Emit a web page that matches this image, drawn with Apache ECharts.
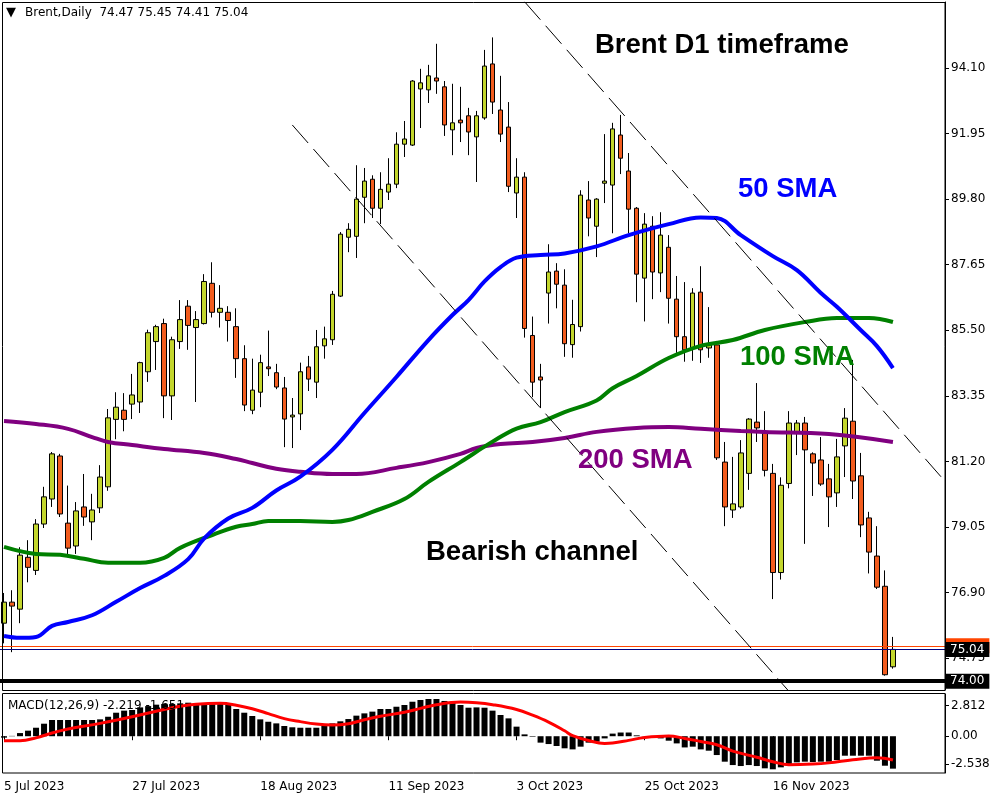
<!DOCTYPE html>
<html><head><meta charset="utf-8">
<script src="https://cdn.jsdelivr.net/npm/echarts@6/dist/echarts.min.js"></script>
<style>html,body{margin:0;padding:0;background:#fff}#c{width:1000px;height:800px}</style>
</head><body><div id="c"></div>
<script>
// ---------- DATA ----------
const firstDate = [2023, 6, 5];   // 5 Jul 2023 (month 0-based)
const barCount = 112;
const futureSlots = 6;
const categories = [];
(function () {
  const d = new Date(Date.UTC(firstDate[0], firstDate[1], firstDate[2]));
  while (categories.length < barCount + futureSlots) {
    const wd = d.getUTCDay();
    if (wd !== 0 && wd !== 6) categories.push(d.toISOString().slice(0, 10));
    d.setUTCDate(d.getUTCDate() + 1);
  }
})();

const open = [
75.90,76.59,76.36,78.06,77.63,79.15,79.97,81.38,79.18,78.43,
79.71,79.22,79.68,80.37,82.58,82.88,83.08,83.15,84.14,85.13,
85.72,83.35,85.13,86.29,85.59,85.72,87.04,86.09,86.09,85.62,
84.57,82.88,83.47,84.30,84.11,83.61,82.66,82.76,84.30,83.80,
84.99,85.19,86.62,88.55,88.58,89.86,90.45,89.50,90.03,90.29,
91.60,91.57,93.41,93.38,93.77,93.48,92.07,92.39,92.53,91.84,
92.46,94.23,92.72,92.16,90.00,90.52,85.33,83.97,86.72,87.44,
86.98,85.03,85.62,89.77,88.91,90.32,90.26,91.90,90.72,89.50,
87.21,88.91,87.38,88.22,86.52,85.29,84.92,86.75,84.92,85.02,
81.18,79.61,79.71,80.81,82.49,82.13,80.81,77.56,80.48,82.17,
82.46,81.45,81.25,80.63,80.17,81.71,82.52,80.73,79.35,78.10,
77.11,74.47];
const high = [
76.89,76.98,78.39,78.62,79.31,80.37,81.51,81.45,80.41,79.87,
80.79,80.14,81.08,82.92,83.47,83.44,84.07,84.47,85.52,85.68,
85.88,85.29,86.49,86.49,86.13,87.34,87.73,86.98,86.29,86.22,
85.01,84.57,84.70,85.49,84.40,83.97,83.28,84.44,84.66,85.51,
85.62,86.79,88.72,89.01,90.91,90.82,90.58,90.68,91.14,91.99,
92.36,93.70,94.07,94.20,94.89,93.67,93.58,93.48,92.79,92.69,
94.69,95.10,93.84,92.98,91.14,90.68,85.95,84.40,88.32,87.70,
87.50,86.50,90.09,90.39,89.83,91.93,92.30,92.56,91.31,89.54,
89.34,89.24,89.37,88.62,87.28,87.08,86.88,87.60,86.26,85.15,
81.84,81.35,81.90,82.62,83.77,82.85,81.12,80.68,82.85,82.56,
82.66,81.50,82.00,81.12,81.94,82.95,84.53,81.48,79.55,79.08,
77.63,75.45];
const low = [
75.24,74.95,75.90,77.24,77.48,79.02,79.71,79.38,78.13,78.17,
79.09,78.62,79.51,80.24,81.93,82.19,82.59,82.79,83.81,84.20,
82.62,82.56,84.89,84.86,83.15,85.69,85.92,85.59,85.13,83.94,
82.85,82.75,82.98,84.00,83.57,81.67,81.64,82.23,83.51,83.28,
84.57,85.02,86.59,88.06,87.87,89.01,89.18,88.98,89.77,90.16,
91.18,91.54,92.13,92.95,93.25,91.87,91.24,91.67,91.24,90.36,
92.40,92.59,91.67,90.03,89.18,85.26,83.31,82.95,85.72,86.22,
84.63,84.60,85.46,88.58,87.90,89.67,88.68,90.62,88.68,86.42,
85.79,86.52,86.75,85.72,84.76,84.47,84.50,84.43,84.60,81.25,
79.08,79.35,79.65,80.27,81.84,80.71,76.69,77.33,80.32,81.41,
78.50,80.07,80.40,79.05,79.71,80.69,79.97,78.72,77.53,77.02,
74.18,74.41];
const close = [
76.59,76.46,78.13,77.73,79.15,80.04,81.45,79.48,78.36,79.58,
79.38,79.61,80.69,82.63,82.98,82.58,83.38,84.44,85.42,85.62,
83.35,85.19,85.85,85.66,85.85,87.10,86.09,86.22,85.82,84.57,
83.05,83.54,84.44,84.24,83.64,82.59,82.72,84.14,83.90,84.96,
85.22,86.68,88.65,88.81,89.80,90.39,89.50,90.12,90.29,91.60,
91.77,93.67,93.61,93.84,93.67,92.23,92.30,92.30,92.00,92.53,
94.16,92.98,91.93,90.22,90.52,85.56,83.80,83.87,87.41,87.01,
85.06,85.69,89.93,89.18,89.80,90.39,92.10,91.14,89.47,87.34,
88.98,87.41,88.62,86.55,85.29,84.86,86.72,84.86,85.05,81.32,
79.71,79.81,81.48,82.59,82.30,80.91,77.56,80.42,82.46,82.46,
81.58,81.15,80.46,80.04,81.35,82.62,80.56,79.12,78.23,77.08,
74.21,75.04];

// moving averages: [bar index, price]
const sma50 = [[0,75.48],[2,75.42],[4,75.45],[6,75.81],[8,75.94],[11,76.16],[14,76.60],[17,77.05],[20,77.45],[23,78.00],[25,78.68],[28,79.33],[31,79.68],[34,80.25],[37,80.70],[41,81.58],[45,82.79],[49,83.97],[53,85.18],[56,86.00],[58,86.49],[60,87.10],[62,87.57],[64,87.88],[67,87.97],[70,88.02],[74,88.25],[78,88.62],[83,88.98],[87,89.20],[89,89.18],[92,88.62],[96,87.93],[99,87.47],[102,86.72],[104,86.27],[107,85.50],[109,84.98],[111,84.26]];
const sma100 = [[0,78.40],[4,78.17],[7,78.14],[10,78.01],[13,77.88],[17,77.88],[20,78.04],[22,78.37],[26,78.79],[29,79.06],[31,79.15],[33,79.25],[37,79.25],[41,79.22],[43,79.28],[46,79.55],[50,79.97],[53,80.53],[57,81.18],[61,81.85],[64,82.28],[67,82.49],[70,82.82],[74,83.20],[76,83.60],[79,84.00],[83,84.59],[87,84.99],[91,85.18],[95,85.51],[100,85.77],[104,85.90],[108,85.90],[111,85.77]];
const sma200 = [[0,82.53],[4,82.43],[8,82.27],[11,82.00],[13,81.84],[16,81.74],[20,81.61],[25,81.48],[29,81.28],[31,81.15],[34,80.96],[37,80.86],[41,80.79],[44,80.79],[49,80.99],[53,81.18],[57,81.45],[59,81.64],[62,81.77],[66,81.84],[70,81.97],[74,82.17],[79,82.30],[83,82.33],[87,82.27],[92,82.20],[95,82.17],[103,82.10],[111,81.84]];

// bearish channel trend lines: [bar index, price]
const channelUpper = [[65, 96.27], [117, 80.70]];
const channelLower = [[36, 92.23], [98, 73.67]];

// MACD(12,26,9)
const macdHist = [
-0.13,0.03,0.29,0.51,0.78,1.15,1.49,1.49,1.49,1.49,
1.49,1.49,1.55,1.79,2.16,2.35,2.41,2.65,2.77,2.90,
2.96,2.96,3.02,3.08,3.02,3.02,3.08,3.02,2.93,2.50,
2.16,1.86,1.55,1.33,1.18,0.94,0.82,0.78,0.78,0.78,
0.94,1.18,1.37,1.58,1.89,2.10,2.26,2.50,2.50,2.71,
2.87,3.17,3.33,3.42,3.42,3.24,3.17,2.87,2.62,2.65,
2.62,2.35,1.95,1.64,0.88,0.17,-0.05,-0.59,-0.72,-0.90,
-1.11,-1.21,-0.96,-0.59,-0.50,-0.20,0.24,0.34,0.34,0.08,
0.02,-0.05,-0.20,-0.41,-0.66,-1.03,-0.96,-1.21,-1.33,-1.73,
-2.34,-2.65,-2.74,-2.65,-2.74,-2.95,-3.04,-2.86,-2.65,-2.40,
-2.34,-2.37,-2.34,-2.34,-2.19,-1.79,-1.79,-1.79,-1.79,-2.25,
-2.71,-2.98];
const macdSignal = [[0,-0.41],[2,-0.41],[4,-0.15],[6,0.30],[8,0.66],[12,1.18],[16,1.79],[19,2.30],[22,2.75],[24,2.94],[27,3.02],[29,2.85],[31,2.52],[33,2.08],[35,1.62],[37,1.34],[39,1.12],[41,1.03],[43,1.15],[45,1.52],[47,1.84],[50,2.20],[52,2.56],[54,2.90],[57,3.14],[59,3.08],[61,2.90],[64,2.45],[66,1.93],[68,1.30],[70,0.50],[71,0.05],[73,-0.40],[75,-0.66],[76,-0.62],[78,-0.38],[80,-0.12],[83,0.02],[85,-0.20],[87,-0.48],[89,-0.78],[91,-1.37],[94,-1.93],[96,-2.34],[98,-2.62],[101,-2.56],[103,-2.45],[106,-2.17],[109,-1.97],[111,-2.19]];

// axis tick labels
const priceTicks = [94.10, 91.95, 89.80, 87.65, 85.50, 83.35, 81.20, 79.05, 76.90, 74.75];
const macdTicks = [2.812, 0, -2.538];
const dateLabelStep = 16;
const askPrice = 75.16, bidPrice = 75.04, levelPrice = 74.00;
const headerText = 'Brent,Daily  74.47 75.45 74.41 75.04';
const macdHeader = 'MACD(12,26,9) -2.219 -1.651';
const monthNames = ['Jan','Feb','Mar','Apr','May','Jun','Jul','Aug','Sep','Oct','Nov','Dec'];

// ---------- CHART ----------
const BULL = '#c3d62d', BEAR = '#f25c1e';
const FONT = 'DejaVu Sans';
const chart = echarts.init(document.getElementById('c'), null, { renderer: 'canvas' });

const ohlc = open.map((o, i) => [o, close[i], low[i], high[i]]);
const showDate = idx => idx % dateLabelStep === 0 && idx < barCount;

function tag(text, bg, fg) {
  return { show: true, position: 'end', formatter: text, color: fg, backgroundColor: bg,
           padding: [2, 5, 1, 4], fontSize: 12, fontFamily: FONT, distance: 1 };
}
function annotation(text, x, y, color) {
  return { type: 'text', x: x, y: y, z: 50,
    style: { text: text, fill: color, font: 'bold 27.5px "Liberation Sans", Arial, sans-serif', textVerticalAlign: 'middle' } };
}

const option = {
  animation: false,
  backgroundColor: '#fff',
  grid: [
    { left: 0, top: 2, width: 945, height: 688 },
    { left: 0, top: 694, width: 945, height: 79 }
  ],
  xAxis: [
    { type: 'category', gridIndex: 0, data: categories, boundaryGap: true,
      axisLine: { show: false }, axisTick: { show: false }, axisLabel: { show: false }, splitLine: { show: false } },
    { type: 'category', gridIndex: 1, data: categories, boundaryGap: true,
      axisLine: { show: false },
      axisTick: { show: true, interval: showDate, alignWithLabel: true, length: 4, lineStyle: { color: '#000' } },
      axisLabel: { interval: showDate, align: 'left', margin: 8, color: '#000', fontSize: 12, fontFamily: FONT,
        formatter: v => { const p = v.split('-'); return (+p[2]) + ' ' + monthNames[+p[1] - 1] + ' ' + p[0]; } },
      splitLine: { show: false } }
  ],
  yAxis: [
    { type: 'value', gridIndex: 0, position: 'right', min: 73.71, max: 96.26,
      axisLine: { show: true, lineStyle: { color: '#000' } },
      axisTick: { show: true, customValues: priceTicks, length: 4, lineStyle: { color: '#000' } },
      axisLabel: { customValues: priceTicks, formatter: v => v.toFixed(2), color: '#000', fontSize: 12, fontFamily: FONT, margin: 6 },
      splitLine: { show: false } },
    { type: 'value', gridIndex: 1, position: 'right', min: -3.38, max: 3.88,
      axisLine: { show: true, lineStyle: { color: '#000' } },
      axisTick: { show: true, customValues: macdTicks, length: 4, lineStyle: { color: '#000' } },
      axisLabel: { customValues: macdTicks, formatter: v => (v === 0 ? '0.00' : v.toFixed(3)), color: '#000', fontSize: 12, fontFamily: FONT, margin: 6 },
      splitLine: { show: false } }
  ],
  series: [
    { type: 'candlestick', xAxisIndex: 0, yAxisIndex: 0, data: ohlc, barWidth: 5, z: 3,
      itemStyle: { color: BULL, color0: BEAR, borderColor: '#000', borderColor0: '#000', borderWidth: 1 },
      markLine: { silent: true, symbol: ['none', 'none'], animation: false,
        data: [
          { yAxis: askPrice, lineStyle: { color: '#ff4500', width: 1, type: 'solid' }, label: tag(askPrice.toFixed(2), '#ff4500', '#ff4500') },
          { yAxis: bidPrice, lineStyle: { color: '#000080', width: 1, type: 'solid' }, label: tag(bidPrice.toFixed(2), '#000', '#fff') },
          { yAxis: levelPrice, lineStyle: { color: '#000', width: 4, type: 'solid' }, label: tag(levelPrice.toFixed(2), '#000', '#fff') }
        ] } },
    { type: 'line', name: '200 SMA', xAxisIndex: 0, yAxisIndex: 0, data: sma200, showSymbol: false, smooth: 0.4, z: 4,
      lineStyle: { color: '#800080', width: 4 } },
    { type: 'line', name: '100 SMA', xAxisIndex: 0, yAxisIndex: 0, data: sma100, showSymbol: false, smooth: 0.4, z: 4,
      lineStyle: { color: '#008000', width: 4 } },
    { type: 'line', name: '50 SMA', xAxisIndex: 0, yAxisIndex: 0, data: sma50, showSymbol: false, smooth: 0.4, z: 4,
      lineStyle: { color: '#0000ff', width: 4 } },
    { type: 'line', xAxisIndex: 0, yAxisIndex: 0, data: channelUpper, showSymbol: false, z: 5,
      lineStyle: { color: '#000', width: 1, type: [24, 8] } },
    { type: 'line', xAxisIndex: 0, yAxisIndex: 0, data: channelLower, showSymbol: false, z: 5,
      lineStyle: { color: '#000', width: 1, type: [24, 8] } },
    { type: 'bar', xAxisIndex: 1, yAxisIndex: 1, data: macdHist, barWidth: 6, itemStyle: { color: '#000' }, z: 2 },
    { type: 'line', xAxisIndex: 1, yAxisIndex: 1, data: macdSignal, showSymbol: false, smooth: 0.4, z: 3,
      lineStyle: { color: '#ff0000', width: 3 } }
  ],
  graphic: [
    { type: 'rect', z: 40, shape: { x: 2.5, y: 2.5, width: 942.5, height: 688 }, style: { fill: 'none', stroke: '#000', lineWidth: 1 } },
    { type: 'rect', z: 40, shape: { x: 2.5, y: 693.5, width: 942.5, height: 79.5 }, style: { fill: 'none', stroke: '#000', lineWidth: 1 } },
    { type: 'text', x: 6, y: 13, z: 50, style: { text: '\u25BC', fill: '#000', font: '13px "DejaVu Sans"', textVerticalAlign: 'middle' } },
    { type: 'text', x: 25, y: 13, z: 50, style: { text: headerText, fill: '#000', font: '12px "DejaVu Sans"', textVerticalAlign: 'middle' } },
    { type: 'text', x: 8, y: 706, z: 50, style: { text: macdHeader, fill: '#000', font: '12px "DejaVu Sans"', textVerticalAlign: 'middle' } },
    annotation('Brent D1 timeframe', 595, 45, '#000'),
    annotation('50 SMA', 738, 189, '#0000ff'),
    annotation('100 SMA', 740, 357, '#008000'),
    annotation('200 SMA', 578, 460, '#800080'),
    annotation('Bearish channel', 426, 552, '#000')
  ]
};
chart.setOption(option);
</script>
</body></html>
